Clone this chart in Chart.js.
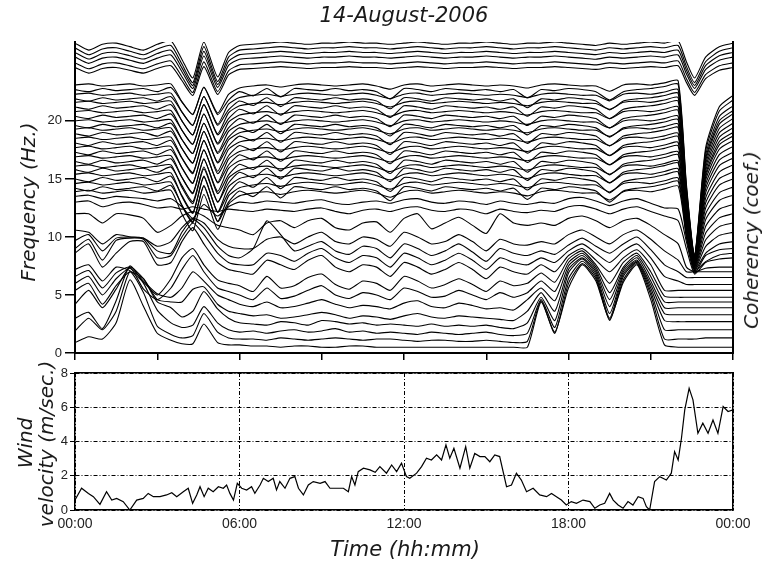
<!DOCTYPE html>
<html>
<head>
<meta charset="utf-8">
<script src="https://cdn.jsdelivr.net/npm/chart.js@4.4.1/dist/chart.umd.min.js"></script>
<style>
  body { margin: 0; background: #fff; }
  #wrap { position: relative; width: 762px; height: 563px; overflow: hidden; font-family: 'DejaVu Sans', sans-serif; }
  canvas { position: absolute; left: 0; }
  .lbl { position: absolute; font-style: italic; color: #1a1a1a; white-space: nowrap; font-size: 20px; transform: translate(-50%, -50%); }
  .rot { transform: translate(-50%, -50%) rotate(-90deg); }
</style>
</head>
<body>
<div id="wrap">
  <canvas id="coherency" width="762" height="365" style="top:0"></canvas>
  <canvas id="wind" width="762" height="203" style="top:360px"></canvas>
  <div class="lbl" style="left:404px;top:15px;font-size:21px">14-August-2006</div>
  <div class="lbl rot" style="left:28px;top:202px">Frequency (Hz.)</div>
  <div class="lbl rot" style="left:751px;top:240px">Coherency (coef.)</div>
  <div class="lbl rot" style="left:25px;top:443px">Wind</div>
  <div class="lbl rot" style="left:46px;top:444px">velocity (m/sec.)</div>
  <div class="lbl" style="left:405px;top:549px;font-size:21px">Time (hh:mm)</div>
</div>
<script>
"use strict";

// ---- coherency traces (upper panel), sampled at these hours
var T = [0, 0.5, 1, 1.5, 2, 2.5, 3, 3.5, 3.9, 4.3, 4.7, 5.2, 5.6, 6, 6.5, 7, 7.5, 8, 8.5, 9, 9.5,
         10, 10.5, 11, 11.5, 12, 12.5, 13, 13.5, 14, 14.5, 15, 15.5, 16, 16.5, 17, 17.5, 18, 18.5,
         19, 19.5, 20, 20.5, 21, 21.5, 22, 22.3, 22.6, 23, 23.5, 24];

// top bundle (24-27 Hz)
var topLevels = [26.7, 26.3, 25.9, 25.5, 25.0, 24.6];
var topAmp = [1.0, 1.0, 0.95, 0.9, 0.85, 0.8];
var topDev = [0, -0.6, -0.1, 0, -0.3, -0.6, -0.1, 0.2, -1.4, -3.0,
              0.1, -2.9, -0.8, -0.2, -0.1, 0, 0.1, 0, -0.1, 0,
              0, 0.1, 0, 0, -0.1, 0, 0.1, 0, -0.1, 0,
              0, 0.1, 0, -0.1, 0, 0, 0.1, 0, -0.1, -0.2,
              0, -0.1, 0, 0.1, 0, 0.2, -1.6, -3.0, -1.2, -0.3, 0];

// dense middle bundle (14-23 Hz)
var midLevels = [23.1, 22.7, 22.3, 21.9, 21.6, 21.2, 20.8, 20.4, 20.0, 19.6, 19.3, 18.9, 18.5,
                 18.1, 17.7, 17.3, 16.9, 16.5, 16.1, 15.8, 15.4, 15.0, 14.6, 14.2, 13.9];
var midEnd = [22.2, 21.8, 21.3, 20.9, 20.6, 20.2, 19.8, 19.4, 19.0, 18.7, 18.3, 17.8, 17.3,
              16.8, 16.2, 15.6, 15.0, 14.3, 13.6, 12.8, 12.0, 11.2, 10.4, 9.6, 8.6];
var midAmp = [0.9, 0.9, 0.95, 0.95, 1, 1, 1, 1, 1, 1, 1.05, 1.05, 1.05, 1.1, 1.1, 1.1, 1.1,
              1.15, 1.15, 1.15, 1.2, 1.2, 1.2, 1.2, 1.2];
var midDevA = [0, 0.1, -0.1, 0, 0.1, -0.1, 0, 0.1, -1.6, -2.8,
               -0.2, -2.7, -0.9, -0.3, -0.1, 0, -0.2, 0, 0.1, 0,
               -0.1, 0, 0.1, -0.1, -0.4, 0, 0.1, -0.1, 0, 0.1,
               0, -0.1, 0, -0.1, -0.3, 0, 0.1, 0, -0.1, -0.1,
               -0.6, 0, 0.1, 0, 0.2, 0.4, 0, 0, 0, 0, 0];
var midDevB = [0, -0.2, 0.1, -0.1, 0, 0.1, -0.2, 0.2, -1.2, -2.4,
               0.2, -2.4, -1.0, -0.2, -0.6, 0.1, -0.7, 0.1, 0, -0.1,
               0.1, -0.1, 0, -0.2, -0.9, 0.1, 0, -0.2, 0.1, 0,
               -0.1, 0, -0.2, 0, -0.8, 0, -0.1, 0.1, 0, -0.2,
               -1.0, -0.2, 0, 0.1, 0.3, 0.5, 0, 0, 0, 0, 0];
// the late-evening collapse (22:18 .. 24:00)
var plungeFloor = 6.0;
var plungeKeep = [0.5, 0.14, 0, 0, 0];
var plungeRise = [0, 0, 0.72, 0.94, 1];

// lower traces (0-14 Hz), read one by one
var lowTraces = [
  [0.9, 1.4, 1.2, 2.6, 6.3, 4.0, 1.7, 1.1, 0.8, 0.8,
   2.5, 0.9, 0.7, 0.7, 0.6, 0.6, 0.5, 0.6, 0.6, 0.5,
   0.5, 0.6, 0.6, 0.5, 0.5, 0.5, 0.5, 0.5, 0.5, 0.5,
   0.5, 0.5, 0.5, 0.5, 0.5, 4.4, 1.8, 5.6, 7.6, 6.2,
   2.9, 6.1, 7.6, 4.6, 0.7, 0.5, 0.5, 0.5, 0.5, 0.5, 0.5],
  [1.9, 3.0, 2.0, 3.6, 7.0, 5.2, 2.3, 1.6, 1.3, 1.5,
   3.4, 1.8, 1.3, 1.2, 1.2, 1.1, 1.3, 1.2, 1.1, 1.2,
   1.3, 1.2, 1.1, 1.2, 1.2, 1.1, 1.0, 1.1, 1.1, 1.0,
   1.0, 1.1, 1.0, 0.9, 1.0, 4.5, 1.7, 6.0, 7.7, 6.4,
   2.8, 6.3, 7.7, 5.0, 1.2, 1.2, 1.2, 1.2, 1.3, 1.3, 1.3],
  [3.0, 3.5, 2.1, 4.5, 7.5, 6.0, 3.7, 2.6, 2.2, 2.4,
   4.0, 2.6, 2.0, 1.8, 1.9, 1.7, 1.9, 2.0, 1.8, 1.9,
   2.1, 1.8, 1.9, 1.7, 1.8, 1.7, 1.6, 1.8, 1.7, 1.6,
   1.7, 1.8, 1.6, 1.5, 1.7, 4.6, 2.2, 6.4, 7.9, 6.6,
   3.0, 6.6, 7.8, 5.3, 2.0, 2.0, 2.0, 2.0, 2.0, 2.0, 2.0],
  [4.2, 5.4, 3.9, 5.5, 7.4, 6.4, 4.4, 3.9, 3.1, 3.6,
   5.3, 3.8, 3.0, 2.6, 2.5, 2.4, 2.7, 2.6, 2.4, 2.8,
   2.7, 2.5, 2.6, 2.4, 2.5, 2.4, 2.3, 2.5, 2.3, 2.4,
   2.3, 2.4, 2.2, 2.1, 2.6, 4.8, 2.8, 6.9, 8.1, 6.8,
   3.4, 6.8, 7.9, 5.6, 2.8, 2.7, 2.7, 2.7, 2.7, 2.7, 2.7],
  [5.4, 6.0, 4.2, 5.8, 7.0, 6.4, 4.6, 4.4, 4.4, 5.5,
   5.7, 4.2, 3.6, 3.4, 3.2, 3.3, 3.0, 3.1, 3.3, 3.5,
   3.3, 3.0, 3.2, 3.1, 2.9, 3.2, 3.4, 3.1, 3.0, 3.2,
   3.1, 3.0, 2.9, 2.8, 3.6, 5.2, 3.6, 7.2, 8.2, 7.0,
   4.0, 7.0, 8.0, 5.9, 3.4, 3.3, 3.3, 3.3, 3.3, 3.3, 3.3],
  [6.0, 6.6, 5.0, 6.4, 7.3, 6.2, 5.1, 4.8, 5.6, 7.0,
   6.2, 5.0, 4.6, 4.2, 4.0, 4.4, 3.9, 4.0, 4.3, 4.6,
   4.2, 3.9, 4.1, 4.0, 3.8, 4.3, 4.5, 4.0, 3.9, 4.3,
   4.1, 3.8, 3.9, 3.7, 4.6, 5.6, 4.5, 7.5, 8.4, 7.2,
   4.6, 7.2, 8.2, 6.2, 3.9, 3.9, 3.9, 3.9, 3.9, 3.9, 3.9],
  [6.6, 7.1, 5.6, 6.9, 7.4, 5.5, 4.6, 5.6, 7.2, 8.4,
   7.0, 5.6, 5.3, 5.0, 4.6, 5.6, 4.7, 4.9, 5.4, 5.8,
   5.0, 4.7, 5.2, 5.0, 4.6, 5.6, 5.3, 4.8, 4.9, 5.4,
   5.0, 4.6, 5.2, 4.8, 5.2, 6.2, 5.3, 7.8, 8.6, 7.4,
   5.2, 7.4, 8.4, 6.6, 4.4, 4.4, 4.4, 4.4, 4.4, 4.4, 4.4],
  [7.2, 7.6, 6.2, 7.4, 7.1, 6.1, 5.0, 6.4, 8.2, 9.0,
   7.6, 6.3, 6.0, 5.8, 5.3, 6.6, 5.6, 5.8, 6.5, 6.8,
   5.9, 5.5, 6.2, 6.0, 5.4, 6.6, 6.2, 5.6, 5.9, 6.4,
   5.9, 5.3, 6.2, 5.8, 6.0, 6.9, 6.1, 8.1, 8.8, 7.6,
   6.0, 7.8, 8.6, 7.0, 4.9, 4.8, 4.8, 4.8, 4.8, 4.8, 4.8],
  [8.6, 9.4, 7.4, 8.6, 9.6, 9.6, 7.6, 7.8, 9.6, 10.8,
   9.4, 7.8, 7.2, 7.0, 6.8, 8.0, 7.6, 7.2, 8.0, 8.4,
   7.4, 7.0, 7.6, 7.4, 6.6, 7.8, 7.4, 6.8, 7.2, 7.8,
   7.2, 6.4, 7.4, 7.0, 6.8, 7.6, 7.0, 8.4, 9.0, 8.0,
   7.0, 8.2, 8.9, 7.6, 5.4, 5.4, 5.4, 5.4, 5.4, 5.4, 5.4],
  [9.0, 9.8, 8.0, 9.7, 9.9, 9.8, 8.2, 8.4, 10.0, 11.2,
   10.2, 8.6, 7.8, 7.6, 7.6, 8.6, 8.4, 7.9, 8.6, 9.0,
   8.2, 7.8, 8.4, 8.2, 7.4, 8.6, 8.2, 7.6, 8.0, 8.6,
   8.0, 7.2, 8.2, 7.8, 7.6, 8.2, 7.8, 8.8, 9.4, 8.6,
   7.8, 8.8, 9.4, 8.2, 6.6, 6.2, 5.9, 5.9, 5.9, 5.9, 5.9],
  [9.7, 10.2, 8.8, 9.9, 10.0, 9.9, 8.8, 8.6, 10.4, 11.5,
   10.8, 9.2, 8.4, 8.2, 9.0, 11.4, 10.2, 8.8, 9.2, 9.6,
   8.8, 8.5, 9.2, 9.0, 8.2, 9.4, 9.0, 8.4, 8.8, 9.4,
   8.7, 7.9, 9.0, 8.6, 8.4, 8.8, 8.5, 9.3, 9.9, 9.2,
   8.6, 9.4, 10.0, 8.9, 7.6, 7.0, 6.5, 6.5, 6.5, 6.5, 6.5],
  [10.6, 10.4, 9.4, 10.2, 10.0, 9.9, 9.2, 9.6, 10.8, 11.6,
   11.2, 9.8, 9.2, 9.0, 9.0, 9.8, 10.0, 9.4, 10.0, 10.4,
   9.6, 9.4, 10.0, 9.8, 9.2, 10.4, 10.0, 9.4, 9.6, 10.2,
   9.6, 8.8, 9.8, 9.4, 9.3, 9.6, 9.4, 10.2, 10.6, 10.0,
   9.4, 10.2, 10.6, 9.8, 8.8, 8.0, 7.0, 7.0, 7.0, 7.0, 7.0],
  [12.0, 12.0, 11.2, 12.0, 11.9, 11.6, 10.4, 11.0, 11.8, 12.2,
   11.8, 11.0, 10.8, 10.6, 10.2, 11.2, 11.4, 10.8, 11.4, 11.6,
   10.8, 10.6, 11.2, 11.3, 10.4, 11.6, 12.0, 10.7, 11.2, 11.7,
   11.0, 10.3, 12.0, 11.2, 11.0, 11.2, 11.0, 11.6, 11.8, 11.4,
   10.8, 11.4, 11.6, 11.0, 10.2, 9.4, 7.4, 7.0, 7.3, 7.4, 7.4],
  [13.0, 13.1, 12.6, 12.9, 13.0, 12.8, 12.5, 12.6, 12.4, 12.6,
   12.4, 12.2, 12.4, 12.3, 12.2, 12.4, 12.3, 12.2, 12.4, 12.5,
   12.2, 12.0, 12.3, 12.4, 12.2, 12.5, 12.6, 12.3, 12.2, 12.4,
   12.3, 12.0, 12.4, 12.2, 12.1, 12.3, 12.2, 12.6, 12.7, 12.4,
   12.0, 12.4, 12.6, 12.2, 11.8, 11.4, 9.0, 6.8, 7.8, 8.1, 8.2],
  [13.5, 13.6, 13.3, 13.5, 13.4, 13.3, 13.1, 13.3, 12.6, 11.6,
   12.8, 11.8, 12.6, 13.0, 12.9, 13.1, 13.0, 12.9, 13.1, 13.2,
   12.9, 12.8, 13.0, 13.1, 12.9, 13.2, 13.3, 13.0, 12.9, 13.1,
   13.0, 12.8, 13.1, 12.9, 12.8, 13.0, 12.9, 13.3, 13.4, 13.1,
   12.7, 13.1, 13.3, 12.9, 12.5, 12.4, 9.6, 6.9, 8.4, 8.9, 9.0]
];

var freqTicks = [0, 5, 10, 15, 20];
var topTickHours = [0, 3, 6, 9, 12, 15, 18, 21, 24];

// ---- wind velocity (lower panel)
var windHours = [0, 0.24, 0.49, 0.67, 0.91, 1.15, 1.34, 1.52, 1.76, 2.0, 2.25, 2.49, 2.67, 2.86,
  3.1, 3.34, 3.53, 3.71, 3.95, 4.13, 4.29, 4.44, 4.56, 4.71, 4.86, 5.04, 5.23, 5.41, 5.53, 5.65,
  5.78, 5.92, 6.08, 6.26, 6.44, 6.56, 6.75, 6.87, 7.05, 7.23, 7.35, 7.47, 7.66, 7.84, 8.02, 8.15,
  8.33, 8.51, 8.69, 8.94, 9.12, 9.3, 9.55, 9.79, 9.97, 10.09, 10.21, 10.33, 10.52, 10.76, 10.95,
  11.12, 11.36, 11.55, 11.73, 11.91, 12.09, 12.21, 12.46, 12.64, 12.82, 13.0, 13.19, 13.37, 13.53,
  13.67, 13.82, 14.04, 14.25, 14.4, 14.58, 14.77, 14.95, 15.13, 15.31, 15.49, 15.74, 15.92, 16.1,
  16.28, 16.47, 16.71, 16.95, 17.2, 17.38, 17.56, 17.74, 17.92, 18.1, 18.29, 18.53, 18.78, 18.96,
  19.14, 19.32, 19.5, 19.63, 19.81, 19.99, 20.17, 20.35, 20.54, 20.72, 20.84, 20.96, 21.14, 21.33,
  21.57, 21.75, 21.87, 22.0, 22.12, 22.24, 22.4, 22.54, 22.72, 22.9, 23.09, 23.27, 23.45, 23.64,
  23.82, 24.0];
var windSpeed = [0.58, 1.27, 0.97, 0.78, 0.33, 1.07, 0.58, 0.68, 0.49, 0.0, 0.58, 0.68, 0.97, 0.78,
  0.78, 0.88, 1.01, 0.78, 1.07, 1.27, 0.39, 0.88, 1.36, 0.78, 1.27, 1.07, 1.36, 1.27, 1.46, 0.97,
  0.58, 1.56, 1.27, 1.17, 1.36, 0.97, 1.46, 1.85, 1.66, 1.85, 1.17, 1.66, 1.27, 1.85, 1.95, 1.27,
  0.88, 1.46, 1.66, 1.56, 1.66, 1.27, 1.27, 1.27, 1.07, 1.95, 1.46, 2.24, 2.44, 2.34, 2.2,
  2.53, 2.15, 2.63, 2.24, 2.73, 1.95, 1.85, 2.15, 2.53, 3.02, 2.92, 3.22, 2.92, 3.8,
  3.02, 3.6, 2.44, 3.7, 2.44, 3.3, 3.12, 3.12, 2.82, 3.22, 3.12, 1.36, 1.46, 2.15,
  1.75, 1.07, 1.27, 0.88, 0.78, 0.97, 0.78, 0.58, 0.29, 0.49, 0.39, 0.58, 0.49, 0.1,
  0.29, 0.39, 0.97, 0.58, 0.29, 0.1, 0.49, 0.29, 0.78, 0.68, 0.19, 0.0, 1.66, 1.95,
  1.75, 2.15, 3.41, 2.92, 4.19, 5.85, 7.1, 6.43, 4.48, 5.07, 4.48, 5.26, 4.48, 6.04,
  5.75, 5.85];
var windTicks = [0, 2, 4, 6, 8];
var windTickHours = [0, 6, 12, 18, 24];
var timeLabels = ['00:00', '06:00', '12:00', '18:00', '00:00'];

var tickFont = { family: "'Liberation Sans', Arial, sans-serif", size: 13 };
var ink = '#000';

// build the trace datasets
var traces = [];
topLevels.forEach(function (lvl, i) {
    traces.push(T.map(function (h, k) {
        return { x: h, y: lvl + topAmp[i] * topDev[k] };
    }));
});
midLevels.forEach(function (lvl, i) {
    var dev = i % 2 ? midDevB : midDevA;
    traces.push(T.map(function (h, k) {
        var v = lvl + midAmp[i] * dev[k];
        if (k >= 46) {
            var j = k - 46;
            v = plungeFloor + plungeKeep[j] * (v - plungeFloor) + plungeRise[j] * (midEnd[i] - plungeFloor);
        }
        return { x: h, y: v };
    }));
});
lowTraces.forEach(function (vals) {
    traces.push(T.map(function (h, k) { return { x: h, y: vals[k] }; }));
});

new Chart(document.getElementById('coherency'), {
    type: 'line',
    data: {
        datasets: traces.map(function (d) {
            return { data: d, borderColor: ink, borderWidth: 1.1, pointRadius: 0, tension: 0.2, fill: false };
        })
    },
    options: {
        responsive: false,
        devicePixelRatio: 1,
        animation: false,
        layout: { padding: { top: 42, left: 0, right: 0, bottom: 0 } },
        plugins: { legend: { display: false }, tooltip: { enabled: false } },
        scales: {
            x: {
                type: 'linear', min: 0, max: 24, position: 'bottom',
                afterBuildTicks: function (s) { s.ticks = topTickHours.map(function (v) { return { value: v }; }); },
                ticks: { display: false },
                grid: { drawOnChartArea: false, tickLength: 7, color: ink, lineWidth: 1.5 },
                border: { color: ink, width: 2 },
                afterFit: function (s) { s.height = 12; }
            },
            y: {
                min: 0, max: 26.8,
                afterBuildTicks: function (s) { s.ticks = freqTicks.map(function (v) { return { value: v }; }); },
                ticks: { color: '#222', font: tickFont, padding: 3 },
                grid: { drawOnChartArea: false, tickLength: 10, color: ink, lineWidth: 1.5 },
                border: { color: ink, width: 2 },
                afterFit: function (s) { s.width = 75; }
            },
            yR: {
                position: 'right', min: 0, max: 26.8,
                ticks: { display: false },
                grid: { display: false },
                border: { color: ink, width: 2 },
                afterFit: function (s) { s.width = 29; }
            }
        }
    }
});

var dashGrid = [4, 2, 1, 2];

new Chart(document.getElementById('wind'), {
    type: 'line',
    data: {
        datasets: [{
            data: windHours.map(function (h, i) { return { x: h, y: windSpeed[i] }; }),
            borderColor: ink, borderWidth: 1.2, pointRadius: 0, tension: 0, fill: false
        }]
    },
    options: {
        responsive: false,
        devicePixelRatio: 1,
        animation: false,
        layout: { padding: { top: 13, left: 0, right: 0, bottom: 0 } },
        plugins: { legend: { display: false }, tooltip: { enabled: false } },
        scales: {
            x: {
                type: 'linear', min: 0, max: 24, position: 'bottom',
                afterBuildTicks: function (s) { s.ticks = windTickHours.map(function (v) { return { value: v }; }); },
                ticks: {
                    color: '#222', font: { family: tickFont.family, size: 14 }, padding: 6, maxRotation: 0,
                    callback: function (v, i) { return timeLabels[i]; }
                },
                grid: { color: ink, lineWidth: 1, drawTicks: false },
                border: { color: ink, width: 1.5, dash: dashGrid },
                afterFit: function (s) { s.height = 53; }
            },
            xT: {
                type: 'linear', position: 'top', min: 0, max: 24,
                ticks: { display: false },
                grid: { display: false },
                border: { color: ink, width: 1.5 },
                afterFit: function (s) { s.height = 0; }
            },
            y: {
                min: 0, max: 8,
                afterBuildTicks: function (s) { s.ticks = windTicks.map(function (v) { return { value: v }; }); },
                ticks: { color: '#222', font: tickFont, padding: 2 },
                grid: { color: ink, lineWidth: 1, tickLength: 5 },
                border: { color: ink, width: 1.5, dash: dashGrid },
                afterFit: function (s) { s.width = 75; }
            },
            yR: {
                position: 'right', min: 0, max: 8,
                ticks: { display: false },
                grid: { display: false },
                border: { color: ink, width: 1.5 },
                afterFit: function (s) { s.width = 29; }
            }
        }
    }
});
</script>
</body>
</html>
